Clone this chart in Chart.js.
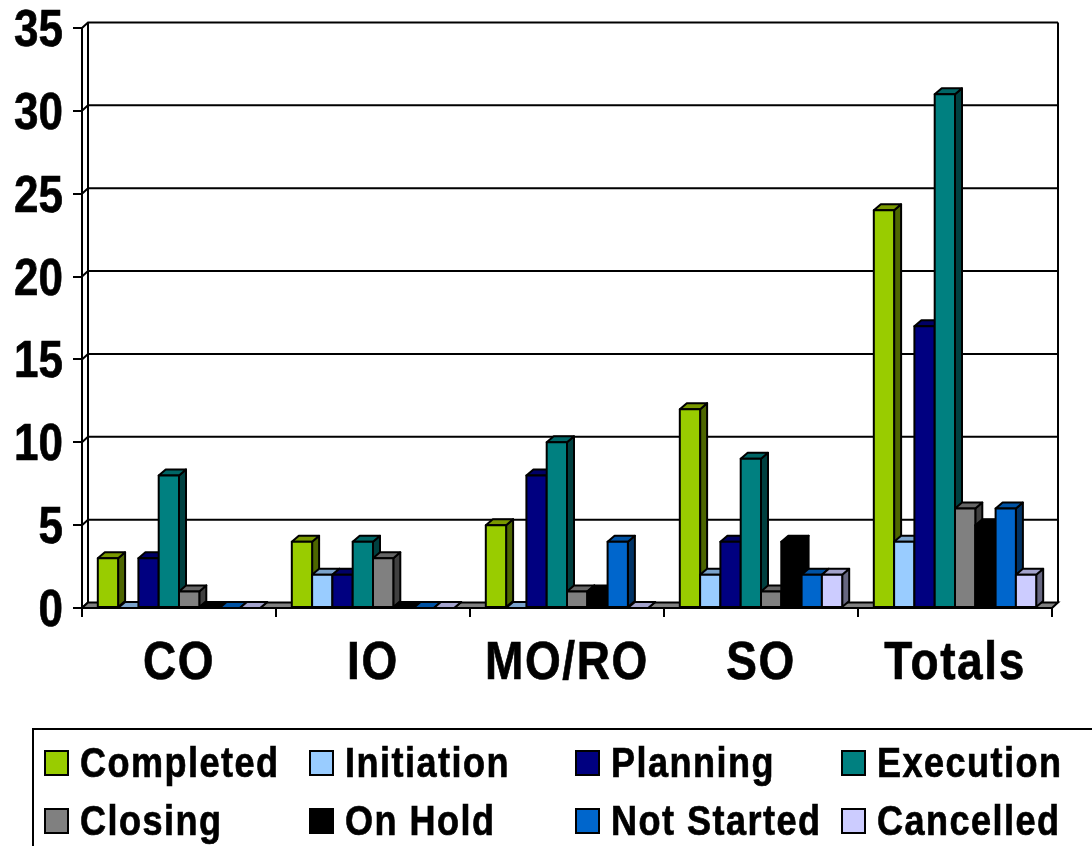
<!DOCTYPE html>
<html>
<head>
<meta charset="utf-8">
<style>
  html, body { margin: 0; padding: 0; background: #fff; }
  #wrap { position: relative; width: 1092px; height: 846px; overflow: hidden; }
</style>
<script src="https://cdn.jsdelivr.net/npm/chart.js@4/dist/chart.umd.min.js"></script>
</head>
<body>
<div id="wrap"><canvas id="chart" width="1092" height="846"></canvas></div>
<script>
const categories = ['CO', 'IO', 'MO/RO', 'SO', 'Totals'];
const yTicks = [0, 5, 10, 15, 20, 25, 30, 35];

const completed  = [3, 4, 5, 12, 24];
const initiation = [0, 2, 0, 2, 4];
const planning   = [3, 2, 8, 4, 17];
const execution  = [8, 4, 10, 9, 31];
const closing    = [1, 3, 1, 1, 6];
const onHold     = [0, 0, 1, 4, 5];
const notStarted = [0, 0, 4, 2, 6];
const cancelled  = [0, 0, 0, 2, 2];

const seriesNames  = ['Completed', 'Initiation', 'Planning', 'Execution', 'Closing', 'On Hold', 'Not Started', 'Cancelled'];
const seriesValues = [completed, initiation, planning, execution, closing, onHold, notStarted, cancelled];
const frontColors  = ['#99CC00', '#99CCFF', '#000080', '#008080', '#808080', '#000000', '#0066CC', '#CCCCFF'];
const topColors    = ['#7A9900', '#7AA3CC', '#000066', '#006666', '#666666', '#000000', '#0052A3', '#A3A3CC'];
const sideColors   = ['#4D6600', '#4D6680', '#000040', '#004040', '#404040', '#000000', '#003366', '#666680'];

// Depth of the extruded look, for both the bars and the chart wall.
const BAR_DX = 7, BAR_DY = 6;
const WALL_DX = 6, WALL_DY = 5.5;
const INK = '#000';
const FONT_FAMILY = '"Liberation Sans"';

function face(ctx, pts, fill) {
  ctx.beginPath();
  pts.forEach((p, i) => i ? ctx.lineTo(p[0], p[1]) : ctx.moveTo(p[0], p[1]));
  ctx.closePath();
  ctx.fillStyle = fill;
  ctx.fill();
  ctx.lineWidth = 2;
  ctx.strokeStyle = INK;
  ctx.stroke();
}

// Heavy bold lettering drawn a little taller than its natural proportions.
function tallText(ctx, text, x, baseline, o) {
  ctx.save();
  ctx.font = `bold ${o.size}px ${FONT_FAMILY}`;
  ctx.letterSpacing = `${o.spacing || 0}px`;
  ctx.textBaseline = 'alphabetic';
  ctx.textAlign = o.align || 'left';
  ctx.fillStyle = INK;
  ctx.strokeStyle = INK;
  ctx.lineWidth = 0.6;
  ctx.translate(x, baseline);
  ctx.scale(o.sx || 1, o.sy || 1);
  ctx.fillText(text, 0, 0);
  ctx.strokeText(text, 0, 0);
  ctx.restore();
}

// Back wall, gridlines and floor of the pseudo-3D plot.
const wallPlugin = {
  id: 'wall',
  beforeDatasetsDraw(chart) {
    const { ctx, chartArea: a, scales: { y } } = chart;
    ctx.save();
    ctx.strokeStyle = INK;
    ctx.lineWidth = 2;
    yTicks.forEach(v => {
      const py = y.getPixelForValue(v);
      ctx.beginPath();
      ctx.moveTo(a.left, py);
      ctx.lineTo(a.left + WALL_DX, py - WALL_DY);
      if (v > 0) ctx.lineTo(a.right + WALL_DX, py - WALL_DY);
      ctx.stroke();
    });
    ctx.beginPath();
    ctx.moveTo(a.left + WALL_DX, a.top - WALL_DY);
    ctx.lineTo(a.left + WALL_DX, a.bottom - WALL_DY);
    ctx.moveTo(a.right + WALL_DX, a.top - WALL_DY);
    ctx.lineTo(a.right + WALL_DX, a.bottom - WALL_DY);
    ctx.stroke();
    face(ctx, [
      [a.left, a.bottom],
      [a.left + WALL_DX, a.bottom - WALL_DY],
      [a.right + WALL_DX, a.bottom - WALL_DY],
      [a.right, a.bottom]
    ], '#808080');
    ctx.restore();
  },
  // Series are painted left to right so each bar hides its left neighbour's side.
  beforeDatasetDraw() { return false; },
  afterDatasetsDraw(chart) {
    const { ctx } = chart;
    ctx.save();
    ctx.lineJoin = 'round';
    chart.data.datasets.forEach((ds, i) => {
      chart.getDatasetMeta(i).data.forEach(bar => {
        const { x, y, base, width } = bar.getProps(['x', 'y', 'base', 'width']);
        const l = x - width / 2, r = x + width / 2;
        face(ctx, [[r, y], [r + BAR_DX, y - BAR_DY], [r + BAR_DX, base - BAR_DY], [r, base]], sideColors[i]);
        face(ctx, [[l, y], [l + BAR_DX, y - BAR_DY], [r + BAR_DX, y - BAR_DY], [r, y]], topColors[i]);
        if (base - y > 0) face(ctx, [[l, y], [r, y], [r, base], [l, base]], frontColors[i]);
      });
    });
    ctx.restore();
  }
};

// Axis lettering, placed from the scales' own tick positions.
const axisTextPlugin = {
  id: 'axisText',
  afterDraw(chart) {
    const { ctx, scales: { x, y } } = chart;
    y.ticks.forEach((t, i) => {
      tallText(ctx, String(t.label), 63, y.getPixelForTick(i) + 18, { size: 44, sy: 1.17, align: 'right' });
    });
    x.ticks.forEach((t, i) => {
      tallText(ctx, String(t.label), x.getPixelForTick(i), 679, { size: 46, sy: 1.16, spacing: 1.6, align: 'center' });
    });
  }
};

// Boxed legend with four fixed columns and two rows.
const legendPlugin = {
  id: 'boxedLegend',
  afterDraw(chart) {
    const { ctx } = chart;
    const columns = [45, 310, 576, 842];
    const rows = [763, 821];
    ctx.save();
    ctx.strokeStyle = INK;
    ctx.lineWidth = 2;
    ctx.strokeRect(33, 729, 1080, 130);
    chart.data.datasets.forEach((ds, i) => {
      const cx = columns[i % 4], cy = rows[Math.floor(i / 4)];
      ctx.fillStyle = frontColors[i];
      ctx.fillRect(cx, cy - 12, 23, 24);
      ctx.strokeRect(cx, cy - 12, 23, 24);
      tallText(ctx, ds.label, cx + 35, cy + 14, { size: 37, sx: 0.975, sy: 1.14, spacing: 1.5 });
    });
    ctx.restore();
  }
};

new Chart(document.getElementById('chart'), {
  type: 'bar',
  data: {
    labels: categories,
    datasets: seriesNames.map((name, i) => ({
      label: name,
      data: seriesValues[i],
      backgroundColor: frontColors[i],
      borderColor: INK,
      borderWidth: 2
    }))
  },
  plugins: [wallPlugin, axisTextPlugin, legendPlugin],
  options: {
    responsive: false,
    animation: false,
    events: [],
    layout: { autoPadding: false, padding: { top: 28, right: 40, left: 0, bottom: 0 } },
    categoryPercentage: 0.837,
    barPercentage: 1,
    plugins: { legend: { display: false }, tooltip: { enabled: false } },
    scales: {
      x: {
        afterFit(scale) { scale.height = 238; },
        grid: { drawOnChartArea: false, tickLength: 9, color: INK, lineWidth: 2 },
        border: { color: INK, width: 2 },
        ticks: { display: false, maxRotation: 0, autoSkip: false }
      },
      y: {
        min: 0,
        max: 35,
        afterFit(scale) { scale.width = 82; },
        grid: { drawOnChartArea: false, tickLength: 9, color: INK, lineWidth: 2 },
        border: { color: INK, width: 2 },
        ticks: { display: false, stepSize: 5 }
      }
    }
  }
});
</script>
</body>
</html>
